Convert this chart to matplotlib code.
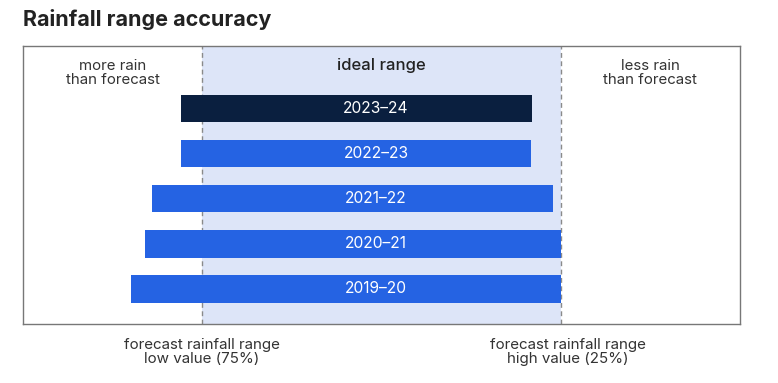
import matplotlib
matplotlib.use("Agg")
import matplotlib.pyplot as plt

# Data (normalised: 0 = forecast low value (75%), 1 = forecast high value (25%))
seasons = ["2019–20", "2020–21", "2021–22", "2022–23", "2023–24"]
starts = [-0.198, -0.159, -0.139, -0.058, -0.058]
ends = [1.0, 1.0, 0.978, 0.916, 0.919]
colors = ["#2563e3", "#2563e3", "#2563e3", "#2563e3", "#0a1f3f"]

plt.rcParams['font.family'] = ['Inter', 'DejaVu Sans']

fig = plt.figure(figsize=(7.78, 3.83), dpi=100)
ax = fig.add_axes([23/778, 1-324/383, (740-23)/778, (324-46)/383])

ax.set_xlim(-0.5, 1.5)
ax.set_ylim(-0.78, 5.39)

ax.axvspan(0, 1, color="#dde5f8", zorder=0, lw=0)
ax.axvline(0, color="#8a8a8a", ls=(0, (3.5, 2.5)), lw=1, zorder=1)
ax.axvline(1, color="#8a8a8a", ls=(0, (3.5, 2.5)), lw=1, zorder=1)

y = list(range(len(seasons)))
widths = [e - s for s, e in zip(starts, ends)]
ax.barh(y, widths, left=starts, height=0.61, color=colors, zorder=2)
for yi, lab in zip(y, seasons):
    ax.text(0.485, yi, lab, color="white", ha="center", va="center",
            fontsize=11.2, zorder=3)

ax.text(0.5, 4.96, "ideal range", ha="center", va="center", fontsize=12,
        color="#222222", fontweight="medium")
ax.text(-0.25, 4.8, "more rain\nthan forecast", ha="center", va="center",
        fontsize=10.8, color="#333333", linespacing=1.0)
ax.text(1.25, 4.8, "less rain\nthan forecast", ha="center", va="center",
        fontsize=10.8, color="#333333", linespacing=1.0)

ax.set_xticks([])
ax.set_yticks([])
for s in ax.spines.values():
    s.set_color("#777777")
    s.set_linewidth(1)

fig.text(202/778, 1-352/383, "forecast rainfall range\nlow value (75%)",
         ha="center", va="center", fontsize=10.9, color="#333333", linespacing=1.0)
fig.text(568/778, 1-352/383, "forecast rainfall range\nhigh value (25%)",
         ha="center", va="center", fontsize=10.9, color="#333333", linespacing=1.0)

fig.text(23/778, 1-19/383, "Rainfall range accuracy", ha="left", va="center",
         fontsize=15.5, fontweight="bold", color="#222222")

fig.savefig("out.png", dpi=100)
